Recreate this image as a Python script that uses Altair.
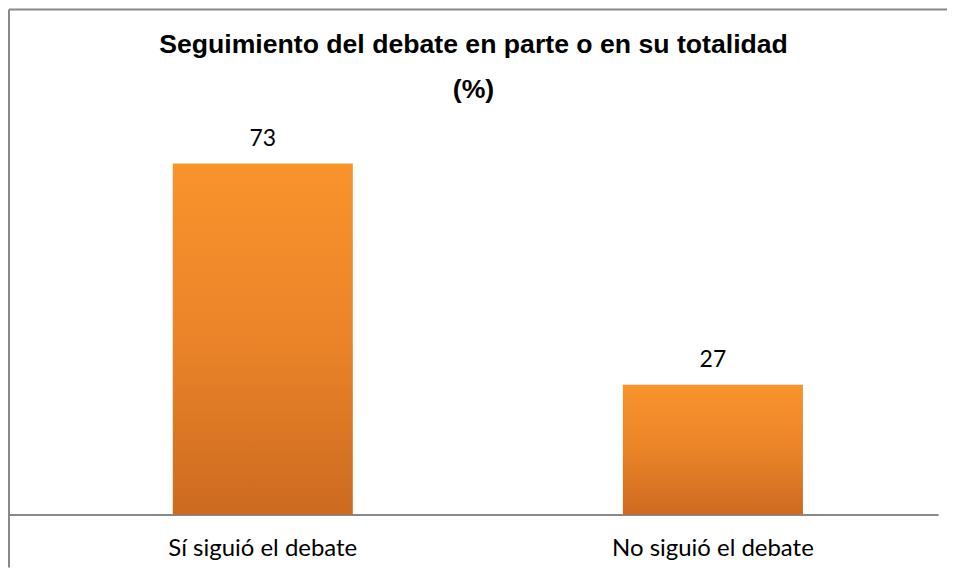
import altair as alt
import pandas as pd

categories = ["Sí siguió el debate", "No siguió el debate"]
values = [73, 27]
title_lines = ["Seguimiento del debate en parte o en su totalidad", "(%)"]

df = pd.DataFrame({"cat": categories, "val": values})

gradient = alt.Gradient(
    gradient="linear",
    x1=0, y1=0, x2=0, y2=1,
    stops=[
        alt.GradientStop(color="#F9932C", offset=0),
        alt.GradientStop(color="#EB8429", offset=0.5),
        alt.GradientStop(color="#CC6A20", offset=1),
    ],
)

x_enc = alt.X(
    "cat:N",
    sort=categories,
    scale=alt.Scale(paddingInner=0.6, paddingOuter=0.332, align=0.548),
    axis=alt.Axis(
        title=None, labelAngle=0, labelFont="Lato", labelFontSize=24,
        labelColor="#000000", domainColor="#888888", domainWidth=2,
        ticks=False, labelPadding=22, labelLimit=0,
    ),
)
y_enc = alt.Y("val:Q", scale=alt.Scale(domain=[0, 105]), axis=None)

base = alt.Chart(df)
bars = base.mark_bar(color=gradient).encode(x=x_enc, y=y_enc)
labels = base.mark_text(
    baseline="alphabetic", dy=-18, font="Lato", fontSize=23, color="#000000"
).encode(x=x_enc, y=y_enc, text="val:Q")

frame_df = pd.DataFrame({"k": [0]})
top_border = alt.Chart(frame_df).mark_rule(color="#888888", strokeWidth=2).encode(
    x=alt.value(0), x2=alt.value(940), y=alt.value(0)
)
left_border = alt.Chart(frame_df).mark_rule(color="#888888", strokeWidth=2).encode(
    x=alt.value(0), y=alt.value(0), y2=alt.value(559)
)

chart = alt.layer(top_border, left_border, bars, labels).properties(
    width=931,
    height=506,
    padding=0,
    title=alt.Title(
        title_lines, fontSize=26.7, font="Liberation Sans", fontWeight="bold",
        lineHeight=45, offset=-95, anchor="middle", color="#000000",
    ),
).configure_view(stroke=None)

chart.save("out.html", embed_options={"renderer": "svg", "actions": False})
